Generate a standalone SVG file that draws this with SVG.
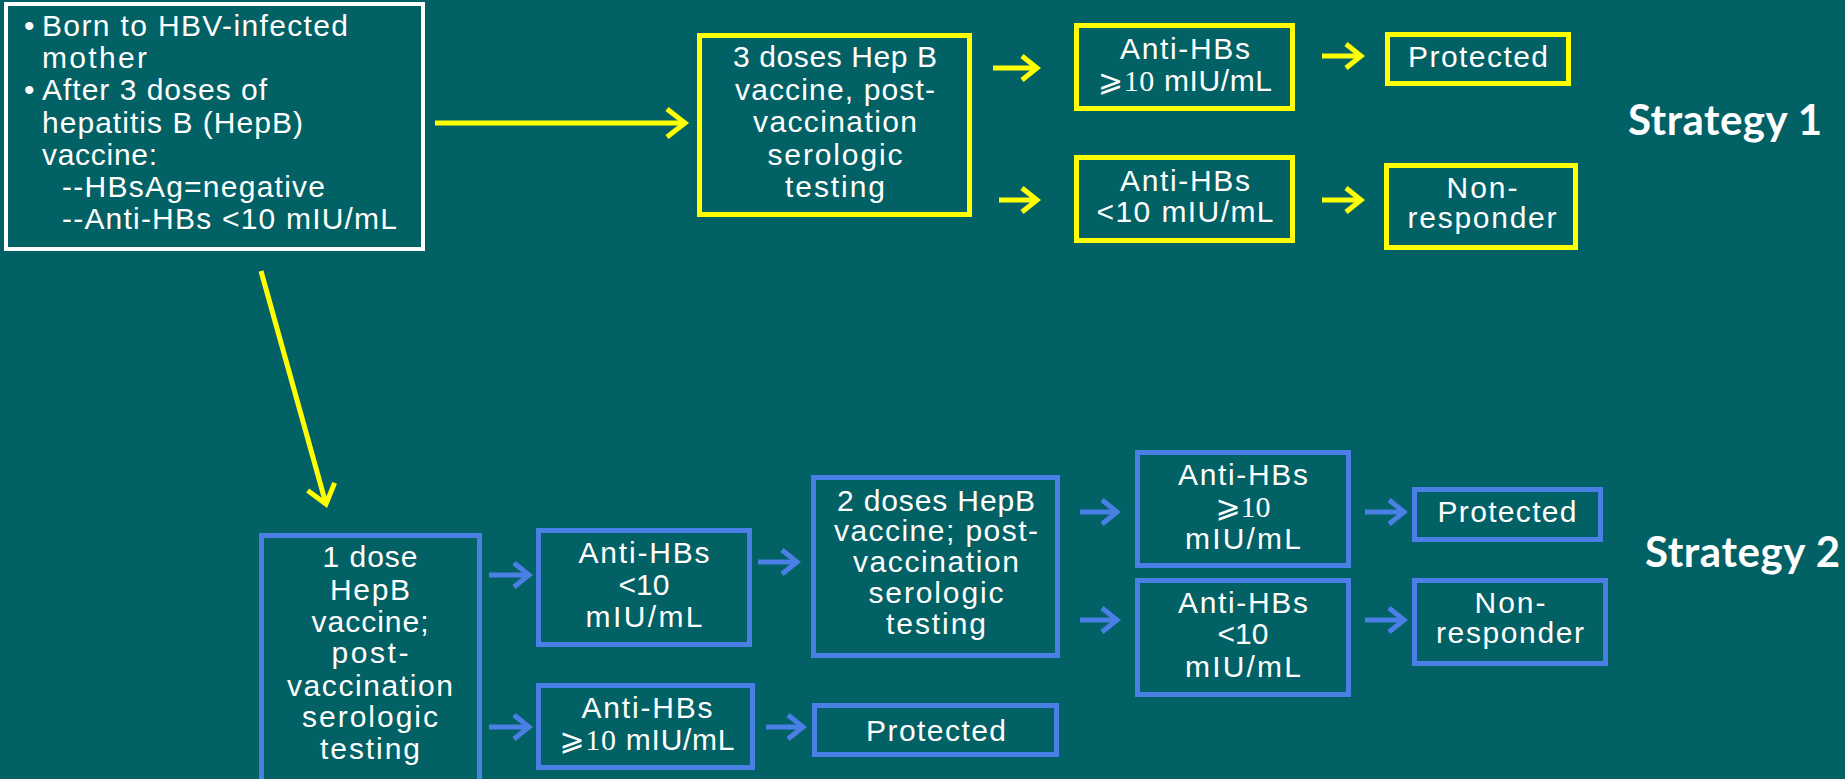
<svg xmlns="http://www.w3.org/2000/svg" width="1845" height="779" viewBox="0 0 1845 779">
<style>
.bg{fill:#026164}
.bw{fill:none;stroke:#ffffff;stroke-width:4}
.by{fill:none;stroke:#ffff00;stroke-width:5}
.bb{fill:none;stroke:#4a7fe6;stroke-width:5}
.cy{stroke:#ffff00;stroke-width:5;fill:none}
.cb{stroke:#4a7fe6;stroke-width:5;fill:none}
text{font-family:"Liberation Sans",Arial,sans-serif;font-size:30px;fill:#ffffff}
.c{text-anchor:middle}
.m{font-family:"Liberation Serif","DejaVu Sans",serif}
.s{font-family:Lato,"Open Sans",sans-serif;font-weight:bold;font-size:42px}
</style>
<defs>
<marker id="ay" markerUnits="userSpaceOnUse" viewBox="-20 -16 26 32" markerWidth="26" markerHeight="32" refX="0" refY="0" orient="auto" overflow="visible">
<path d="M-15,-12 L0,0 L-15,12" fill="none" stroke="#ffff00" stroke-width="5"/>
</marker>
<marker id="ayl" markerUnits="userSpaceOnUse" viewBox="-22 -18 28 36" markerWidth="28" markerHeight="36" refX="0" refY="0" orient="auto" overflow="visible">
<path d="M-18,-14 L0,0 L-18,14" fill="none" stroke="#ffff00" stroke-width="5"/>
</marker>
<marker id="ab" markerUnits="userSpaceOnUse" viewBox="-20 -16 26 32" markerWidth="26" markerHeight="32" refX="0" refY="0" orient="auto" overflow="visible">
<path d="M-15,-12 L0,0 L-15,12" fill="none" stroke="#4a7fe6" stroke-width="5"/>
</marker>
</defs>
<rect class="bg" x="0" y="0" width="1845" height="779"/>

<g id="connectors">
<path class="cy" d="M435,123 L685,123" marker-end="url(#ayl)"/>
<path class="cy" d="M261,271 L326,504" marker-end="url(#ayl)"/>
<path class="cy" d="M993,68 L1037,68" marker-end="url(#ay)"/>
<path class="cy" d="M999,200 L1037,200" marker-end="url(#ay)"/>
<path class="cy" d="M1322,56 L1361,56" marker-end="url(#ay)"/>
<path class="cy" d="M1322,200 L1361,200" marker-end="url(#ay)"/>
<path class="cb" d="M489,575 L529,575" marker-end="url(#ab)"/>
<path class="cb" d="M489,727 L529,727" marker-end="url(#ab)"/>
<path class="cb" d="M758,562 L797,562" marker-end="url(#ab)"/>
<path class="cb" d="M766,727 L803,727" marker-end="url(#ab)"/>
<path class="cb" d="M1080,512 L1117,512" marker-end="url(#ab)"/>
<path class="cb" d="M1080,620 L1117,620" marker-end="url(#ab)"/>
<path class="cb" d="M1365,512 L1404,512" marker-end="url(#ab)"/>
<path class="cb" d="M1365,620 L1404,620" marker-end="url(#ab)"/>
</g>

<g id="start">
<rect class="bw" x="6" y="4" width="417" height="245"/>
<text x="24" y="36">•</text>
<text x="42" y="36" textLength="306">Born to HBV-infected</text>
<text x="42" y="68" textLength="105">mother</text>
<text x="24" y="100">•</text>
<text x="42" y="100" textLength="225">After 3 doses of</text>
<text x="42" y="133" textLength="261">hepatitis B (HepB)</text>
<text x="42" y="165" textLength="115">vaccine:</text>
<text x="62" y="197" textLength="263">--HBsAg=negative</text>
<text x="62" y="229" textLength="335">--Anti-HBs &lt;10 mIU/mL</text>
</g>

<g id="s1-test">
<rect class="by" x="699.5" y="35.5" width="270" height="179"/>
<text class="c" x="835" y="67" textLength="204">3 doses Hep B</text>
<text class="c" x="835" y="100" textLength="200">vaccine, post-</text>
<text class="c" x="835" y="132" textLength="164">vaccination</text>
<text class="c" x="835" y="165" textLength="135">serologic</text>
<text class="c" x="835" y="197" textLength="100">testing</text>
</g>

<g id="s1-high">
<rect class="by" x="1076.5" y="25.5" width="216" height="83"/>
<text class="c" x="1185" y="59" textLength="130">Anti-HBs</text>
<text class="c" x="1185" y="91" textLength="174"><tspan class="m">⩾10</tspan> mIU/mL</text>
</g>

<g id="s1-protected">
<rect class="by" x="1387.5" y="34.5" width="181" height="49"/>
<text class="c" x="1478" y="67" textLength="140">Protected</text>
</g>

<g id="s1-low">
<rect class="by" x="1076.5" y="157.5" width="216" height="83"/>
<text class="c" x="1185" y="191" textLength="130">Anti-HBs</text>
<text class="c" x="1185" y="222" textLength="177">&lt;10 mIU/mL</text>
</g>

<g id="s1-nonresponder">
<rect class="by" x="1386.5" y="165.5" width="189" height="82"/>
<text class="c" x="1482" y="198" textLength="71">Non-</text>
<text class="c" x="1482" y="228" textLength="149">responder</text>
</g>

<g id="label-s1">
<text class="s" x="1628" y="135" textLength="194">Strategy 1</text>
</g>

<g id="s2-dose1">
<rect class="bb" x="261.5" y="535.5" width="218" height="260"/>
<text class="c" x="370" y="567" textLength="95">1 dose</text>
<text class="c" x="370" y="600" textLength="80">HepB</text>
<text class="c" x="370" y="632" textLength="117">vaccine;</text>
<text class="c" x="370" y="663" textLength="77">post-</text>
<text class="c" x="370" y="696" textLength="166">vaccination</text>
<text class="c" x="370" y="727" textLength="136">serologic</text>
<text class="c" x="370" y="759" textLength="100">testing</text>
</g>

<g id="s2-low1">
<rect class="bb" x="538.5" y="530.5" width="211" height="114"/>
<text class="c" x="644" y="563" textLength="131">Anti-HBs</text>
<text class="c" x="644" y="595">&lt;10</text>
<text class="c" x="644" y="627" textLength="117">mIU/mL</text>
</g>

<g id="s2-high1">
<rect class="bb" x="538.5" y="685.5" width="214" height="82"/>
<text class="c" x="647" y="718" textLength="131">Anti-HBs</text>
<text class="c" x="647" y="750" textLength="175"><tspan class="m">⩾10</tspan> mIU/mL</text>
</g>

<g id="s2-protected1">
<rect class="bb" x="814.5" y="705.5" width="242" height="49"/>
<text class="c" x="936" y="741" textLength="140">Protected</text>
</g>

<g id="s2-dose2">
<rect class="bb" x="813.5" y="477.5" width="244" height="178"/>
<text class="c" x="936" y="511" textLength="198">2 doses HepB</text>
<text class="c" x="936" y="541" textLength="204">vaccine; post-</text>
<text class="c" x="936" y="572" textLength="166">vaccination</text>
<text class="c" x="936" y="603" textLength="135">serologic</text>
<text class="c" x="936" y="634" textLength="100">testing</text>
</g>

<g id="s2-high2">
<rect class="bb" x="1137.5" y="452.5" width="211" height="113"/>
<text class="c" x="1243" y="485" textLength="130">Anti-HBs</text>
<text class="c" x="1243" y="517"><tspan class="m">⩾10</tspan></text>
<text class="c" x="1243" y="549" textLength="116">mIU/mL</text>
</g>

<g id="s2-low2">
<rect class="bb" x="1137.5" y="580.5" width="211" height="114"/>
<text class="c" x="1243" y="613" textLength="130">Anti-HBs</text>
<text class="c" x="1243" y="644">&lt;10</text>
<text class="c" x="1243" y="677" textLength="116">mIU/mL</text>
</g>

<g id="s2-protected2">
<rect class="bb" x="1414.5" y="489.5" width="186" height="50"/>
<text class="c" x="1507" y="522" textLength="139">Protected</text>
</g>

<g id="s2-nonresponder">
<rect class="bb" x="1414.5" y="580.5" width="191" height="83"/>
<text class="c" x="1510" y="613" textLength="71">Non-</text>
<text class="c" x="1510" y="643" textLength="148">responder</text>
</g>

<g id="label-s2">
<text class="s" x="1645" y="567" textLength="195">Strategy 2</text>
</g>
</svg>
